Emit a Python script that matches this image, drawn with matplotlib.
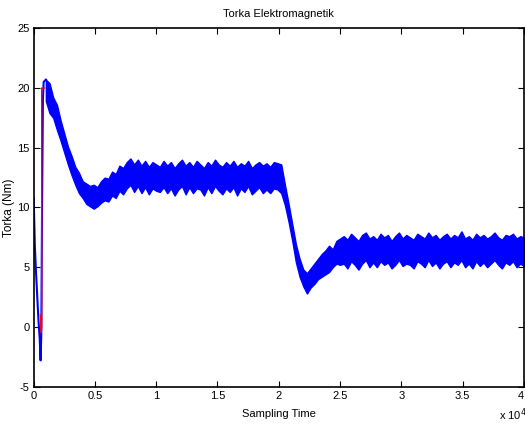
import numpy as np
import matplotlib.pyplot as plt
from matplotlib.ticker import FuncFormatter

plt.rcParams['font.family'] = ['Liberation Sans', 'DejaVu Sans']
plt.rcParams['axes.unicode_minus'] = False

# start-up transient (blue line)
start_x = [0, 50, 100, 200, 300, 400, 500, 570, 630, 690, 760, 820, 1000]
start_y = [10.8, 9.0, 6.8, 4.5, 2.5, 0.5, -1.0, -2.8, -0.5, 10.0, 19.0, 20.5, 20.7]

# red reference segment
ref_x = [560, 620, 660, 660, 900]
ref_y = [1.0, -0.5, 0.0, 20.0, 20.0]

# noisy torque band: samples every 300 from 1000 to 40000, upper / lower edge
band_x = np.arange(1000, 40001, 300)
band_hi = [20.7, 20.4, 19.2, 18.6, 17.3, 16.2, 15.1, 14.3, 13.4, 12.9,
           12.2, 12.0, 11.8, 11.9, 11.7, 12.2, 12.5, 12.4, 13.0, 12.8,
           13.5, 13.3, 13.8, 14.1, 13.6, 14.0, 13.5, 13.9, 13.4, 13.8,
           13.6,
           13.4, 13.9, 13.5, 13.8, 13.3, 13.7, 14.0, 13.5, 13.8, 13.4,
           13.9, 13.6, 13.3, 13.8, 13.5, 14.0, 13.6, 13.4, 13.8, 13.5,
           13.9, 13.4, 13.7, 13.5, 13.9, 13.3, 13.6, 13.8, 13.5, 13.7,
           13.4, 13.8, 13.7,
           13.6, 11.9, 10.3, 8.6, 6.9, 5.7, 4.8, 4.5, 4.9, 5.3,
           5.7, 6.1, 6.4, 6.8, 6.5, 7.2, 7.4,
           7.6, 7.3, 7.8, 7.5, 7.2, 7.7, 7.9, 7.4, 7.6, 7.3,
           7.8, 7.5, 7.7, 7.2, 7.6, 7.9, 7.4, 7.7, 7.5, 7.3,
           7.8, 7.6, 7.4, 7.9, 7.5, 7.7, 7.3, 7.6, 7.8, 7.4,
           7.7, 7.5, 8.0, 7.4, 7.6, 7.3, 7.8, 7.5, 7.7, 7.4,
           7.6, 7.9, 7.5, 7.3, 7.7, 7.6, 7.8, 7.4, 7.6, 7.5]
band_lo = [18.9, 17.9, 17.5, 16.5, 15.6, 14.6, 13.6, 12.7, 11.9, 11.2,
           10.8, 10.3, 10.1, 9.9, 10.1, 10.4, 10.6, 10.5, 11.0, 10.8,
           11.4, 11.1, 11.6, 11.9, 11.3, 11.8, 11.2, 11.7, 11.1, 11.6,
           11.4,
           11.3, 11.7, 11.2, 11.6, 11.0, 11.5, 11.8, 11.1, 11.7, 11.2,
           11.6, 11.5, 11.0, 11.7, 11.2, 11.8, 11.4, 11.1, 11.6, 11.3,
           11.7, 11.0, 11.6, 11.3, 11.8, 11.1, 11.4, 11.7, 11.2, 11.5,
           11.2, 11.6, 11.5,
           11.2, 10.2, 8.8, 7.2, 5.4, 4.2, 3.4, 2.8, 3.3, 3.6,
           4.0, 4.2, 4.4, 4.6, 5.0, 5.3, 5.2,
           5.3, 4.9, 5.5, 5.2, 4.8, 5.3, 5.6, 5.0, 5.4, 5.0,
           5.5, 5.2, 5.4, 4.9, 5.2, 5.6, 5.1, 5.3, 5.2, 4.9,
           5.5, 5.3, 5.0, 5.6, 5.1, 5.4, 4.9, 5.3, 5.5, 5.0,
           5.4, 5.2, 5.6, 5.0, 5.3, 4.9, 5.5, 5.1, 5.4, 5.0,
           5.3, 5.6, 5.2, 4.9, 5.4, 5.2, 5.5, 5.0, 5.3, 5.1]

fig = plt.figure(figsize=(5.25, 4.28), dpi=100)
ax = fig.add_axes([0.064, 0.0965, 0.934, 0.8375])

ax.plot(start_x, start_y, color='blue', lw=1.5)
ax.fill_between(band_x, band_lo, band_hi, color='blue', lw=1.0, edgecolor='blue')
ax.plot(ref_x, ref_y, color='red', lw=1.0)

ax.set_xlim(0, 40000)
ax.set_ylim(-5, 25)
ax.set_xticks(np.arange(0, 40001, 5000))
ax.set_yticks(np.arange(-5, 26, 5))
ax.xaxis.set_major_formatter(FuncFormatter(lambda v, p: '{:g}'.format(v / 1e4)))
ax.tick_params(direction='in', top=True, right=True, length=4, width=0.8,
               labelsize=8, pad=3)
for s in ax.spines.values():
    s.set_linewidth(1.2)
# keep the last x tick label inside the figure
fig.canvas.draw()
ax.get_xticklabels()[-1].set_ha('right')

ax.set_title('Torka Elektromagnetik', fontsize=8, pad=8)
ax.set_xlabel('Sampling Time', fontsize=8, labelpad=6)
ax.set_ylabel('Torka (Nm)', fontsize=8.5)
ax.yaxis.set_label_coords(-0.038, 0.5)
fig.text(0.95, 0.012, 'x 10$^4$', fontsize=8, ha='left', va='bottom')

fig.savefig('out.png', dpi=100)
